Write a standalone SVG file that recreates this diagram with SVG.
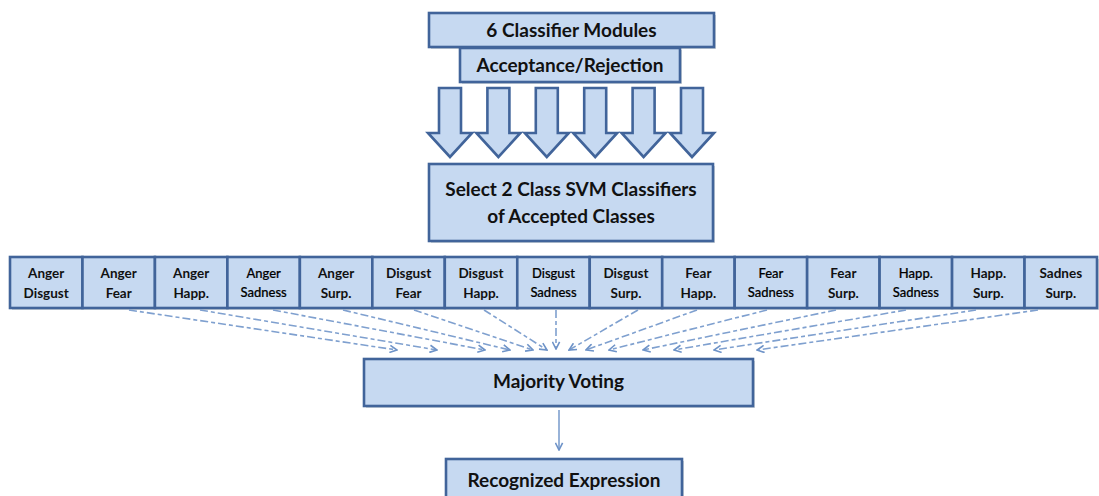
<svg xmlns="http://www.w3.org/2000/svg" width="1099" height="496" viewBox="0 0 1099 496">
  <defs>
    <style>
      .box { fill: #C6D9F1; stroke: #41649A; stroke-width: 2.6; }
      .shadow { fill: #9AA3AE; opacity: 0.45; }
      .big { font-family: Lato, "Open Sans", sans-serif; font-weight: bold; font-size: 19px; fill: #111111; text-anchor: middle; }
      .cell { font-family: Lato, "Open Sans", sans-serif; font-weight: bold; font-size: 13.5px; fill: #111111; text-anchor: middle; }
      .cell.lite { font-weight: 500; font-size: 13px; fill: #000000; stroke: #000000; stroke-width: 0.2; }
      .blk { fill: #C6D9F1; stroke: #41649A; stroke-width: 2.6; stroke-linejoin: miter; }
      .dash { fill: none; stroke: #7FA0CF; stroke-width: 1.6; stroke-dasharray: 8 3 4 3; marker-end: url(#chev); }
      .solid { fill: none; stroke: #7FA0CF; stroke-width: 1.6; marker-end: url(#chev); }
    </style>
    <marker id="chev" viewBox="0 0 10 10" refX="9" refY="5" markerWidth="9" markerHeight="9" markerUnits="userSpaceOnUse" orient="auto">
      <path d="M1,1 L9,5 L1,9" fill="none" stroke="#6E93C8" stroke-width="1.8"/>
    </marker>
    <path id="blockArrow" d="M-11,0 H11 V45 H22 L0,69 L-22,45 H-11 Z"/>
  </defs>

  <!-- top stack: modules and acceptance/rejection -->
  <g id="classifier-modules">
    <rect class="shadow" x="431" y="15" width="285" height="34"/>
    <rect class="box" x="429" y="13" width="285" height="34"/>
    <text class="big" x="571.5" y="37">6 Classifier Modules</text>
  </g>
  <g id="acceptance-rejection">
    <rect class="shadow" x="462" y="50" width="220" height="34"/>
    <rect class="box" x="460" y="48" width="220" height="34"/>
    <text class="big" x="570" y="72">Acceptance/Rejection</text>
  </g>

  <!-- six block arrows -->
  <g id="block-arrows">
    <use href="#blockArrow" class="blk" transform="translate(450,88)"/>
    <use href="#blockArrow" class="blk" transform="translate(498.4,88)"/>
    <use href="#blockArrow" class="blk" transform="translate(546.8,88)"/>
    <use href="#blockArrow" class="blk" transform="translate(595.2,88)"/>
    <use href="#blockArrow" class="blk" transform="translate(643.6,88)"/>
    <use href="#blockArrow" class="blk" transform="translate(692,88)"/>
  </g>

  <g id="select-svm">
    <rect class="shadow" x="431" y="166" width="284" height="77"/>
    <rect class="box" x="429" y="164" width="284" height="77"/>
    <text class="big" x="571" y="196">Select 2 Class SVM Classifiers</text>
    <text class="big" x="571" y="223">of Accepted Classes</text>
  </g>

  <!-- row of pairwise classifiers -->
  <rect class="shadow" x="12" y="259" width="1087" height="51"/>
  <g id="c-anger-disgust"><rect class="box" x="10" y="257" width="72.47" height="51"/><text class="cell" x="46.2" y="278">Anger</text><text class="cell" x="46.2" y="298">Disgust</text></g>
  <g id="c-anger-fear"><rect class="box" x="82.47" y="257" width="72.47" height="51"/><text class="cell" x="118.7" y="278">Anger</text><text class="cell" x="118.7" y="298">Fear</text></g>
  <g id="c-anger-happ"><rect class="box" x="154.93" y="257" width="72.47" height="51"/><text class="cell" x="191.2" y="278">Anger</text><text class="cell" x="191.2" y="298">Happ.</text></g>
  <g id="c-anger-sadness"><rect class="box" x="227.4" y="257" width="72.47" height="51"/><text class="cell lite" x="263.6" y="278">Anger</text><text class="cell lite" x="263.6" y="297">Sadness</text></g>
  <g id="c-anger-surp"><rect class="box" x="299.87" y="257" width="72.47" height="51"/><text class="cell" x="336.1" y="278">Anger</text><text class="cell" x="336.1" y="298">Surp.</text></g>
  <g id="c-disgust-fear"><rect class="box" x="372.33" y="257" width="72.47" height="51"/><text class="cell" x="408.6" y="278">Disgust</text><text class="cell" x="408.6" y="298">Fear</text></g>
  <g id="c-disgust-happ"><rect class="box" x="444.8" y="257" width="72.47" height="51"/><text class="cell" x="481" y="278">Disgust</text><text class="cell" x="481" y="298">Happ.</text></g>
  <g id="c-disgust-sadness"><rect class="box" x="517.27" y="257" width="72.47" height="51"/><text class="cell lite" x="553.5" y="278">Disgust</text><text class="cell lite" x="553.5" y="297">Sadness</text></g>
  <g id="c-disgust-surp"><rect class="box" x="589.73" y="257" width="72.47" height="51"/><text class="cell" x="626" y="278">Disgust</text><text class="cell" x="626" y="298">Surp.</text></g>
  <g id="c-fear-happ"><rect class="box" x="662.2" y="257" width="72.47" height="51"/><text class="cell" x="698.4" y="278">Fear</text><text class="cell" x="698.4" y="298">Happ.</text></g>
  <g id="c-fear-sadness"><rect class="box" x="734.67" y="257" width="72.47" height="51"/><text class="cell lite" x="770.9" y="278">Fear</text><text class="cell lite" x="770.9" y="297">Sadness</text></g>
  <g id="c-fear-surp"><rect class="box" x="807.13" y="257" width="72.47" height="51"/><text class="cell" x="843.4" y="278">Fear</text><text class="cell" x="843.4" y="298">Surp.</text></g>
  <g id="c-happ-sadness"><rect class="box" x="879.6" y="257" width="72.47" height="51"/><text class="cell lite" x="915.8" y="278">Happ.</text><text class="cell lite" x="915.8" y="297">Sadness</text></g>
  <g id="c-happ-surp"><rect class="box" x="952.07" y="257" width="72.47" height="51"/><text class="cell" x="988.3" y="278">Happ.</text><text class="cell" x="988.3" y="298">Surp.</text></g>
  <g id="c-sadnes-surp"><rect class="box" x="1024.53" y="257" width="72.47" height="51"/><text class="cell" x="1060.8" y="278">Sadnes</text><text class="cell" x="1060.8" y="298">Surp.</text></g>

  <g id="majority-voting">
    <rect class="shadow" x="366" y="361" width="389" height="47"/>
    <rect class="box" x="364" y="359" width="389" height="47"/>
    <text class="big" x="558.5" y="388">Majority Voting</text>
  </g>

  <g id="recognized-expression">
    <rect class="shadow" x="448" y="461" width="236" height="45"/>
    <rect class="box" x="446" y="459" width="236" height="45"/>
    <text class="big" x="564" y="487">Recognized Expression</text>
  </g>

  <!-- votes flowing into the majority vote, then the result -->
  <g id="connectors">
    <line class="dash" x1="129" y1="310" x2="397" y2="350"/>
    <line class="dash" x1="200" y1="310" x2="437" y2="350"/>
    <line class="dash" x1="273" y1="310" x2="485" y2="350"/>
    <line class="dash" x1="343" y1="310" x2="510" y2="350"/>
    <line class="dash" x1="414" y1="310" x2="533" y2="350"/>
    <line class="dash" x1="484" y1="310" x2="547" y2="350"/>
    <line class="dash" x1="556" y1="310" x2="556" y2="349"/>
    <line class="dash" x1="638" y1="310" x2="569" y2="350"/>
    <line class="dash" x1="697" y1="310" x2="586" y2="350"/>
    <line class="dash" x1="767" y1="310" x2="609" y2="350"/>
    <line class="dash" x1="836" y1="310" x2="643" y2="350"/>
    <line class="dash" x1="906" y1="310" x2="674" y2="350"/>
    <line class="dash" x1="976" y1="310" x2="714" y2="350"/>
    <line class="dash" x1="1038" y1="310" x2="757" y2="350"/>
    <line class="solid" x1="559" y1="410" x2="559" y2="450"/>
  </g>
</svg>
